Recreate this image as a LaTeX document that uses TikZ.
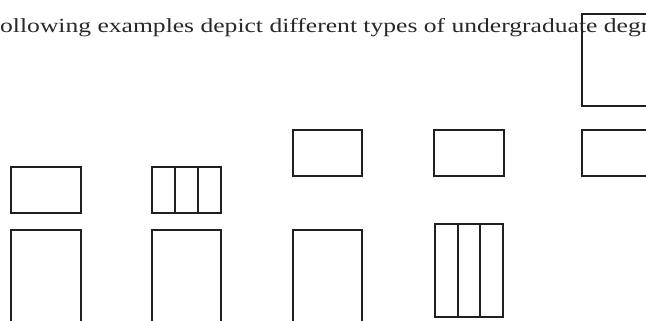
\documentclass[tikz,border=0pt]{standalone}
\usepackage{fontspec}
\setmainfont{Liberation Serif}
\usetikzlibrary{positioning, calc}
\definecolor{boxdark}{RGB}{35,31,32}
\definecolor{textdark}{RGB}{40,40,40}
\tikzset{
  degbox/.style={rectangle, draw=boxdark, line width=2pt,
    inner sep=0pt, outer sep=0pt, minimum width=69.6pt, minimum height=46.3pt},
  tallbox/.style={degbox, minimum height=110pt},
  longbox/.style={degbox, minimum height=93pt},
  divline/.style={draw=boxdark, line width=2pt}
}

\begin{document}
\begin{tikzpicture}[x=1pt, y=-1pt, node distance=16.7pt and 71pt]
  \useasboundingbox (0,0) rectangle (646,321);
  \clip (0,0) rectangle (646,321);
  \node[anchor=base west, inner sep=0pt, text=textdark,
    font=\fontsize{20}{24}\selectfont] (caption) at (0,33)
    {\resizebox{649pt}{\height}{ollowing examples depict different types of undergraduate degr}};

  % first row
  \node[degbox] (top1) at (45.8,190) {};
  \node[degbox, right=of top1] (top2) {};
  \node[tallbox, below=of top1.south, anchor=north] (low1) {};
  \node[tallbox, below=of top2.south, anchor=north] (low2) {};
  \foreach \f in {1,2}
    \draw[divline] ($(top2.south west)!\f/3!(top2.south east)$) -- ($(top2.north west)!\f/3!(top2.north east)$);

  % second row
  \node[degbox] (top3) at (327.5,153.2) {};
  \node[degbox] (top4) at (469,153.2) {};
  \node[tallbox, below=53.7pt of top3.south, anchor=north] (low3) {};
  \node[longbox, minimum width=68.6pt, below=48pt of top4.south, anchor=north] (low4) {};
  \foreach \f in {1,2}
    \draw[divline] ($(low4.south west)!\f/3!(low4.south east)$) -- ($(low4.north west)!\f/3!(low4.north east)$);

  % third column, cut at the edge
  \node[degbox] (top5) at (616.7,153.2) {};
  \node[longbox, minimum height=92.6pt, above=23.7pt of top5.north, anchor=south] (high5) {};
\end{tikzpicture}
\end{document}
